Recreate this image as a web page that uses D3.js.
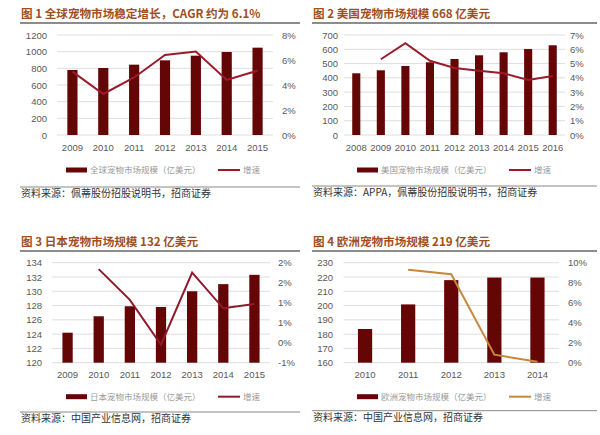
<!DOCTYPE html>
<html lang="zh">
<head>
  <meta charset="UTF-8">
  <title>宠物市场规模</title>
  <style>
    body { margin: 0; background: #fff; }
    svg { display: block; font-family: "Liberation Sans", Arial, sans-serif; }
    .tick-label { font-size: 9.5px; fill: #595959; }
    .title { font-family: "Noto Sans CJK SC", sans-serif; font-size: 11.6px; font-weight: bold; fill: #a0501e; }
    .legend { font-family: "Noto Sans CJK SC", sans-serif; font-size: 8.5px; fill: #9a9a9a; }
    .source { font-family: "Noto Sans CJK SC", sans-serif; font-size: 10px; fill: #333; }
  </style>
</head>
<body>
  <svg id="chart" width="600" height="435"></svg>

  <script src="https://d3js.org/d3.v7.min.js"></script>
  <script>
    // chart 1: global
    const years1 = ["2009", "2010", "2011", "2012", "2013", "2014", "2015"];
    const size1 = [780, 804, 844, 896, 952, 996, 1048];
    const growth1 = [5.07, 3.28, 4.6, 6.4, 6.67, 4.4, 5.15];
    const leftTicks1 = [0, 200, 400, 600, 800, 1000, 1200];
    const rightTicks1 = [0, 2, 4, 6, 8];
    const rightLabels1 = ["0%", "2%", "4%", "6%", "8%"];

    // chart 2: USA
    const years2 = ["2008", "2009", "2010", "2011", "2012", "2013", "2014", "2015", "2016"];
    const size2 = [432, 453, 483, 509, 532, 558, 579, 602, 628];
    const growth2 = [null, 5.3, 6.42, 5.2, 4.69, 4.5, 4.32, 3.85, 4.13];
    const leftTicks2 = [0, 100, 200, 300, 400, 500, 600, 700];
    const rightTicks2 = [0, 1, 2, 3, 4, 5, 6, 7];
    const rightLabels2 = ["0%", "1%", "2%", "3%", "4%", "5%", "6%", "7%"];

    // chart 3: Japan
    const years3 = ["2009", "2010", "2011", "2012", "2013", "2014", "2015"];
    const size3 = [124.2, 126.5, 127.9, 127.8, 130.0, 131.0, 132.3];
    const growth3 = [null, 1.84, 1.07, -0.05, 1.75, 0.86, 0.97];
    const leftTicks3 = [120, 122, 124, 126, 128, 130, 132, 134];
    const rightTicks3 = [-0.5, 0, 0.5, 1, 1.5, 2];
    const rightLabels3 = ["-1%", "0%", "1%", "1%", "2%", "2%"];

    // chart 4: Europe
    const years4 = ["2010", "2011", "2012", "2013", "2014"];
    const size4 = [183.6, 200.8, 217.8, 219.6, 219.6];
    const growth4 = [null, 9.3, 8.85, 0.8, 0.1];
    const leftTicks4 = [160, 170, 180, 190, 200, 210, 220, 230];
    const rightTicks4 = [0, 2, 4, 6, 8, 10];
    const rightLabels4 = ["0%", "2%", "4%", "6%", "8%", "10%"];

    const svg = d3.select("#chart");
    const barColor = "#650606";

    function drawPanel(p) {
      const g = svg.append("g");

      // title + rules
      g.append("text").attr("class", "title")
        .attr("x", p.titleX).attr("y", p.titleY).text(p.title);
      g.append("line")
        .attr("x1", p.ruleX[0]).attr("x2", p.ruleX[1])
        .attr("y1", p.titleY + 5.5).attr("y2", p.titleY + 5.5)
        .attr("stroke", "#666").attr("stroke-width", 1.3);
      g.append("line")
        .attr("x1", p.ruleX[0]).attr("x2", p.ruleX[1])
        .attr("y1", p.bottomRule).attr("y2", p.bottomRule)
        .attr("stroke", "#888").attr("stroke-width", 1);
      g.append("text").attr("class", "source")
        .attr("x", p.titleX).attr("y", p.bottomRule + 10).text(p.source);

      const x = d3.scaleBand().domain(p.years).range([p.x0, p.x1]);
      const y = d3.scaleLinear().domain(d3.extent(p.leftTicks)).range([p.y1, p.y0]);
      const y2 = d3.scaleLinear().domain(d3.extent(p.rightTicks)).range([p.y1, p.y0]);

      // gridlines
      g.selectAll(".grid").data(p.leftTicks).enter().append("line")
        .attr("x1", p.x0).attr("x2", p.x1)
        .attr("y1", d => y(d)).attr("y2", d => y(d))
        .attr("stroke", "#dedede").attr("stroke-width", 1);

      // left axis labels
      const leftAxis = d3.axisLeft(y).tickValues(p.leftTicks).tickSize(0).tickPadding(0)
        .tickFormat(d => String(d));
      const la = g.append("g").attr("transform", `translate(${p.leftLabelX},0)`).call(leftAxis);
      la.select(".domain").remove();
      la.selectAll("text").attr("class", "tick-label").attr("fill", null);

      // right axis labels
      const rightAxis = d3.axisRight(y2).tickValues(p.rightTicks).tickSize(0).tickPadding(0)
        .tickFormat((d, i) => p.rightLabels[i]);
      const ra = g.append("g").attr("transform", `translate(${p.rightLabelX},0)`).call(rightAxis);
      ra.select(".domain").remove();
      ra.selectAll("text").attr("class", "tick-label").attr("fill", null);

      // x axis labels
      const bottomAxis = d3.axisBottom(x).tickSize(0).tickPadding(0);
      const xa = g.append("g").attr("transform", `translate(0,${p.xLabelY})`).call(bottomAxis);
      xa.select(".domain").remove();
      xa.selectAll("text").attr("class", "tick-label").attr("fill", null).attr("dy", "0.32em");

      // bars
      const bw = x.bandwidth() * 0.33;
      g.selectAll(".bar").data(p.sizes).enter().append("rect")
        .attr("x", (d, i) => x(p.years[i]) + (x.bandwidth() - bw) / 2)
        .attr("y", d => y(d))
        .attr("width", bw)
        .attr("height", d => y(y.domain()[0]) - y(d))
        .attr("fill", barColor);

      // growth line
      const pts = p.growth.map((d, i) => [p.years[i], d]).filter(d => d[1] !== null);
      const line = d3.line()
        .x(d => x(d[0]) + x.bandwidth() / 2)
        .y(d => y2(d[1]));
      g.append("path").datum(pts)
        .attr("d", line)
        .attr("fill", "none")
        .attr("stroke", p.lineColor)
        .attr("stroke-width", 2);

      // legend
      g.append("rect")
        .attr("x", p.legendX[0]).attr("y", p.legendY - 2.5)
        .attr("width", 21).attr("height", 5).attr("fill", barColor);
      g.append("text").attr("class", "legend")
        .attr("x", p.legendX[0] + 24).attr("y", p.legendY).attr("dy", "0.35em")
        .text(p.legendLabel);
      g.append("line")
        .attr("x1", p.legendX[1]).attr("x2", p.legendX[1] + 22)
        .attr("y1", p.legendY).attr("y2", p.legendY)
        .attr("stroke", p.lineColor).attr("stroke-width", 2);
      g.append("text").attr("class", "legend")
        .attr("x", p.legendX[1] + 25).attr("y", p.legendY).attr("dy", "0.35em")
        .text("增速");
    }

    drawPanel({
      title: "图 1 全球宠物市场稳定增长，CAGR 约为 6.1%",
      source: "资料来源：佩蒂股份招股说明书，招商证券",
      legendLabel: "全球宠物市场规模（亿美元）",
      years: years1, sizes: size1, growth: growth1,
      leftTicks: leftTicks1, rightTicks: rightTicks1, rightLabels: rightLabels1,
      x0: 57, x1: 273, y0: 35, y1: 135,
      leftLabelX: 47, rightLabelX: 282, xLabelY: 148,
      titleX: 21, titleY: 17.5, ruleX: [20, 300], bottomRule: 187,
      legendY: 170, legendX: [66, 218], lineColor: "#9b1b2a"
    });

    drawPanel({
      title: "图 2 美国宠物市场规模 668 亿美元",
      source: "资料来源：APPA，佩蒂股份招股说明书，招商证券",
      legendLabel: "美国宠物市场规模（亿美元）",
      years: years2, sizes: size2, growth: growth2,
      leftTicks: leftTicks2, rightTicks: rightTicks2, rightLabels: rightLabels2,
      x0: 344, x1: 565, y0: 35, y1: 135,
      leftLabelX: 338, rightLabelX: 570, xLabelY: 148,
      titleX: 313, titleY: 17.5, ruleX: [312, 597], bottomRule: 186,
      legendY: 170, legendX: [357, 509], lineColor: "#9b1b2a"
    });

    drawPanel({
      title: "图 3 日本宠物市场规模 132 亿美元",
      source: "资料来源：中国产业信息网，招商证券",
      legendLabel: "日本宠物市场规模（亿美元）",
      years: years3, sizes: size3, growth: growth3,
      leftTicks: leftTicks3, rightTicks: rightTicks3, rightLabels: rightLabels3,
      x0: 52, x1: 270, y0: 262.7, y1: 362.7,
      leftLabelX: 42, rightLabelX: 278, xLabelY: 375,
      titleX: 21, titleY: 245.5, ruleX: [20, 300], bottomRule: 412,
      legendY: 396.7, legendX: [66, 218], lineColor: "#8e1a2c"
    });

    drawPanel({
      title: "图 4 欧洲宠物市场规模 219 亿美元",
      source: "资料来源：中国产业信息网，招商证券",
      legendLabel: "欧洲宠物市场规模（亿美元）",
      years: years4, sizes: size4, growth: growth4,
      leftTicks: leftTicks4, rightTicks: rightTicks4, rightLabels: rightLabels4,
      x0: 343.5, x1: 559, y0: 262.7, y1: 362.7,
      leftLabelX: 333, rightLabelX: 568, xLabelY: 375,
      titleX: 313, titleY: 245.5, ruleX: [312, 597], bottomRule: 410.7,
      legendY: 396.7, legendX: [357, 509], lineColor: "#c8883c"
    });
  </script>
</body>
</html>
